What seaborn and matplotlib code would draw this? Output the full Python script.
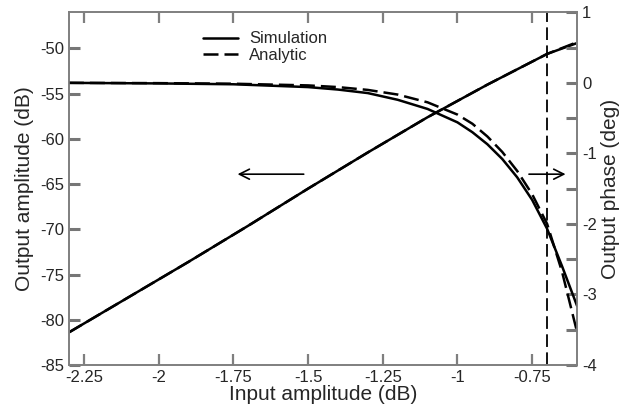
import numpy as np
import pandas as pd
import matplotlib
matplotlib.use("Agg")
import matplotlib.pyplot as plt
import seaborn as sns

# input amplitude grid and output amplitude (dB), left axis
amp_x = [-2.3, -2.1, -1.9, -1.7, -1.5, -1.3, -1.1, -0.9, -0.8, -0.7, -0.65, -0.6]
amp_sim = [-81.4, -77.5, -73.6, -69.6, -65.5, -61.5, -57.6, -54.0, -52.3, -50.6, -50.0, -49.4]
amp_ana = [-81.4, -77.5, -73.6, -69.6, -65.5, -61.5, -57.6, -54.0, -52.3, -50.6, -49.95, -49.3]

# output phase (deg), right axis
ph_x = [-2.3, -2.0, -1.75, -1.5, -1.4, -1.3, -1.2, -1.1, -1.0, -0.95, -0.9,
        -0.85, -0.8, -0.75, -0.7, -0.65, -0.6]
ph_sim = [0.0, -0.008, -0.02, -0.06, -0.095, -0.145, -0.24, -0.37, -0.56, -0.70, -0.87,
          -1.08, -1.34, -1.66, -2.07, -2.60, -3.16]
ph_ana = [0.0, -0.004, -0.012, -0.036, -0.06, -0.10, -0.166, -0.276, -0.45, -0.58, -0.76,
          -0.98, -1.25, -1.58, -2.0, -2.68, -3.53]

marker_x = -0.7
x_ticks = [-2.25, -2.0, -1.75, -1.5, -1.25, -1.0, -0.75]
x_labels = ["-2.25", "-2", "-1.75", "-1.5", "-1.25", "-1", "-0.75"]

grey = "#7f7f7f"
sns.set_theme(style="ticks")
plt.rcParams["font.family"] = ["Liberation Sans", "DejaVu Sans"]
plt.rcParams["axes.unicode_minus"] = False

amp_df = pd.DataFrame({"x": amp_x, "sim": amp_sim, "ana": amp_ana})
ph_df = pd.DataFrame({"x": ph_x, "sim": ph_sim, "ana": ph_ana})

fig = plt.figure(figsize=(6.32, 4.11), dpi=100)
ax = fig.add_axes([0.109, 0.112, 0.804, 0.858])
ax2 = ax.twinx()

sns.lineplot(data=amp_df, x="x", y="ana", ax=ax, color="black", lw=1.8)
ax.lines[-1].set_dashes([6, 2.4])
sns.lineplot(data=amp_df, x="x", y="sim", ax=ax, color="black", lw=1.8)

sns.lineplot(data=ph_df, x="x", y="sim", ax=ax2, color="black", lw=1.8, label="Simulation")
sns.lineplot(data=ph_df, x="x", y="ana", ax=ax2, color="black", lw=1.8, label="Analytic")
ax2.lines[-1].set_dashes([6, 2.4])

ax.axvline(marker_x, color="black", lw=1.3, dashes=(7, 3))

ax.set_xlim(-2.3, -0.6)
ax.set_ylim(-85, -46)
ax2.set_ylim(-4, 1)

ax.set_xticks(x_ticks)
ax.set_xticklabels(x_labels)
ax.set_yticks(np.arange(-85, -46, 5))
ax2.set_yticks(np.arange(-4, 2, 1))
ax2.set_yticks(np.arange(-3.5, 1, 1), minor=True)

ax.set_xlabel("Input amplitude (dB)", fontsize=15, labelpad=0)
ax.set_ylabel("Output amplitude (dB)", fontsize=15, labelpad=4)
ax2.set_ylabel("Output phase (deg)", fontsize=15, rotation=90, labelpad=3)

# arrows pointing to each axis
ax.annotate("", xy=(-1.745, -63.9), xytext=(-1.505, -63.9),
            arrowprops=dict(arrowstyle="->", color="black", lw=1.2, mutation_scale=18))
ax.annotate("", xy=(-0.629, -63.9), xytext=(-0.77, -63.9),
            arrowprops=dict(arrowstyle="->", color="black", lw=1.2, mutation_scale=18))

ax2.legend(loc="upper left", bbox_to_anchor=(0.263, 0.946), frameon=False, fontsize=12,
           handlelength=2.1, handletextpad=0.7, labelspacing=0.1, borderpad=0,
           borderaxespad=0)

for a in (ax, ax2):
    for s in a.spines.values():
        s.set_color(grey)
        s.set_linewidth(1.2)
ax.tick_params(axis="x", direction="in", length=8, width=1.6, color=grey,
               labelsize=12, top=True, bottom=True)
ax.tick_params(axis="y", direction="in", length=8, width=2.2, color="#767676",
               labelsize=12, left=True)
ax2.tick_params(axis="y", which="both", direction="in", length=8, width=2.2,
                color="#767676", labelsize=12, right=True)

fig.savefig("out.png", dpi=100)
